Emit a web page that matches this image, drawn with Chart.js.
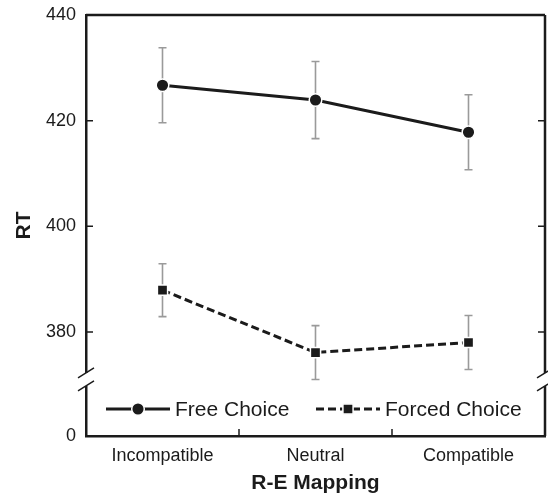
<!DOCTYPE html>
<html>
<head>
<meta charset="utf-8">
<script src="https://cdn.jsdelivr.net/npm/chart.js@4/dist/chart.umd.min.js"></script>
<style>
  html, body { margin: 0; padding: 0; background: #fff; }
</style>
</head>
<body>
<canvas id="rtChart" width="548" height="496"></canvas>
<script>
// values
var categories = ['Incompatible', 'Neutral', 'Compatible'];
var freeRT = [426.7, 423.9, 417.8];
var freeErr = [7.1, 7.3, 7.1];
var forcedRT = [387.9, 376.1, 378.0];
var forcedErr = [5.0, 5.1, 5.1];
var yTicks = [380, 400, 420, 440];
var yMin = 360.3;   // bottom of the broken axis, shown as 0
var yMax = 440;
var breakAt = 371;  // where the axis is cut

var ink = '#1b1b1b';
var font = '"Liberation Sans", Arial, Helvetica, sans-serif';

// grey error bars, drawn under the lines
var errorBars = {
  id: 'errorBars',
  beforeDatasetsDraw: function(chart) {
    var ctx = chart.ctx, y = chart.scales.y;
    var errs = [freeErr, forcedErr];
    ctx.save();
    ctx.strokeStyle = '#9a9a9a';
    ctx.lineWidth = 1.6;
    chart.data.datasets.forEach(function(ds, di) {
      chart.getDatasetMeta(di).data.forEach(function(pt, i) {
        var top = y.getPixelForValue(ds.data[i] + errs[di][i]);
        var bot = y.getPixelForValue(ds.data[i] - errs[di][i]);
        ctx.beginPath();
        ctx.moveTo(pt.x, top); ctx.lineTo(pt.x, bot);
        ctx.moveTo(pt.x - 4, top); ctx.lineTo(pt.x + 4, top);
        ctx.moveTo(pt.x - 4, bot); ctx.lineTo(pt.x + 4, bot);
        ctx.stroke();
      });
    });
    ctx.restore();
  }
};

// box frame, inward ticks, axis break and the legend inside the plot
var frame = {
  id: 'frame',
  afterDraw: function(chart) {
    var ctx = chart.ctx, a = chart.chartArea, y = chart.scales.y, x = chart.scales.x;
    ctx.save();
    ctx.strokeStyle = ink;
    ctx.lineWidth = 2.5;
    ctx.beginPath();
    ctx.moveTo(a.left, a.top); ctx.lineTo(a.right, a.top);
    ctx.moveTo(a.right, a.top); ctx.lineTo(a.right, a.bottom);
    ctx.stroke();

    ctx.lineWidth = 1.5;
    ctx.beginPath();
    yTicks.forEach(function(v) {
      var py = y.getPixelForValue(v);
      ctx.moveTo(a.left, py); ctx.lineTo(a.left + 7, py);
      ctx.moveTo(a.right - 7, py); ctx.lineTo(a.right, py);
    });
    for (var i = 0; i < categories.length - 1; i++) {
      var px = (x.getPixelForTick(i) + x.getPixelForTick(i + 1)) / 2;
      ctx.moveTo(px, a.bottom); ctx.lineTo(px, a.bottom - 7);
    }
    ctx.stroke();

    // break marks
    var c = y.getPixelForValue(breakAt);
    var g1 = c - 6.5, g2 = c + 6.5;
    ctx.fillStyle = '#fff';
    [a.left, a.right].forEach(function(ax) {
      ctx.fillRect(ax - 3, g1, 6, g2 - g1);
      ctx.beginPath();
      ctx.moveTo(ax - 8, g1 + 5); ctx.lineTo(ax + 8, g1 - 5);
      ctx.moveTo(ax - 8, g2 + 5); ctx.lineTo(ax + 8, g2 - 5);
      ctx.stroke();
    });

    // legend
    var ly = a.bottom - 27;
    var items = [
      { x: a.left + 20, dash: [], style: 'circle', r: 6.3 },
      { x: a.left + 230, dash: [8, 4], style: 'rect', r: 7.2 }
    ];
    ctx.font = '21px ' + font;
    ctx.textBaseline = 'middle';
    items.forEach(function(it, i) {
      ctx.lineWidth = 3;
      ctx.strokeStyle = ink;
      ctx.setLineDash(it.dash);
      ctx.beginPath();
      ctx.moveTo(it.x, ly); ctx.lineTo(it.x + 64, ly);
      ctx.stroke();
      ctx.setLineDash([]);
      ctx.lineWidth = 1.5;
      ctx.strokeStyle = '#fff';
      ctx.fillStyle = ink;
      ctx.beginPath();
      if (it.style === 'circle') {
        ctx.arc(it.x + 32, ly, it.r, 0, Math.PI * 2);
      } else {
        var s = it.r * Math.SQRT1_2;
        ctx.rect(it.x + 32 - s, ly - s, 2 * s, 2 * s);
      }
      ctx.fill(); ctx.stroke();
      ctx.fillStyle = ink;
      ctx.fillText(chart.data.datasets[i].label, it.x + 69, ly + 1);
    });
    ctx.restore();
  }
};

var chart = new Chart(document.getElementById('rtChart').getContext('2d'), {
  type: 'line',
  data: {
    labels: categories,
    datasets: [
      {
        label: 'Free Choice',
        data: freeRT,
        borderColor: ink,
        borderWidth: 3,
        pointStyle: 'circle',
        pointRadius: 6.3,
        pointBackgroundColor: ink,
        pointBorderColor: '#fff',
        pointBorderWidth: 1.5
      },
      {
        label: 'Forced Choice',
        data: forcedRT,
        borderColor: ink,
        borderWidth: 3,
        borderDash: [8, 4],
        pointStyle: 'rect',
        pointRadius: 7.2,
        pointBackgroundColor: ink,
        pointBorderColor: '#fff',
        pointBorderWidth: 1.5
      }
    ]
  },
  options: {
    responsive: false,
    animation: false,
    devicePixelRatio: 1,
    layout: { autoPadding: false, padding: { top: 15, right: 3, left: 0, bottom: 0 } },
    plugins: { legend: { display: false }, tooltip: { enabled: false } },
    scales: {
      x: {
        type: 'category',
        offset: true,
        grid: { display: false, drawTicks: false },
        border: { display: true, color: ink, width: 2.5 },
        ticks: { color: ink, font: { family: font, size: 18 }, padding: 9, maxRotation: 0 },
        title: { display: true, text: 'R-E Mapping', color: ink,
                 font: { family: font, size: 21, weight: 'bold' }, padding: { top: 4, bottom: 0 } },
        afterFit: function(s) { s.height = 60; s.paddingLeft = 0; s.paddingRight = 0; }
      },
      y: {
        min: yMin,
        max: yMax,
        afterBuildTicks: function(s) {
          s.ticks = [yMin].concat(yTicks).map(function(v) { return { value: v }; });
        },
        grid: { display: false, drawTicks: false },
        border: { display: true, color: ink, width: 2.5 },
        ticks: {
          color: ink, font: { family: font, size: 18 }, padding: 10,
          callback: function(v) { return v === yMin ? '0' : v; }
        },
        title: { display: true, text: 'RT', color: ink,
                 font: { family: font, size: 21, weight: 'bold' }, padding: { top: 12, bottom: 0 } },
        afterFit: function(s) { s.width = 86; s.paddingTop = 0; s.paddingBottom = 0; }
      }
    }
  },
  plugins: [errorBars, frame]
});
</script>
</body>
</html>
